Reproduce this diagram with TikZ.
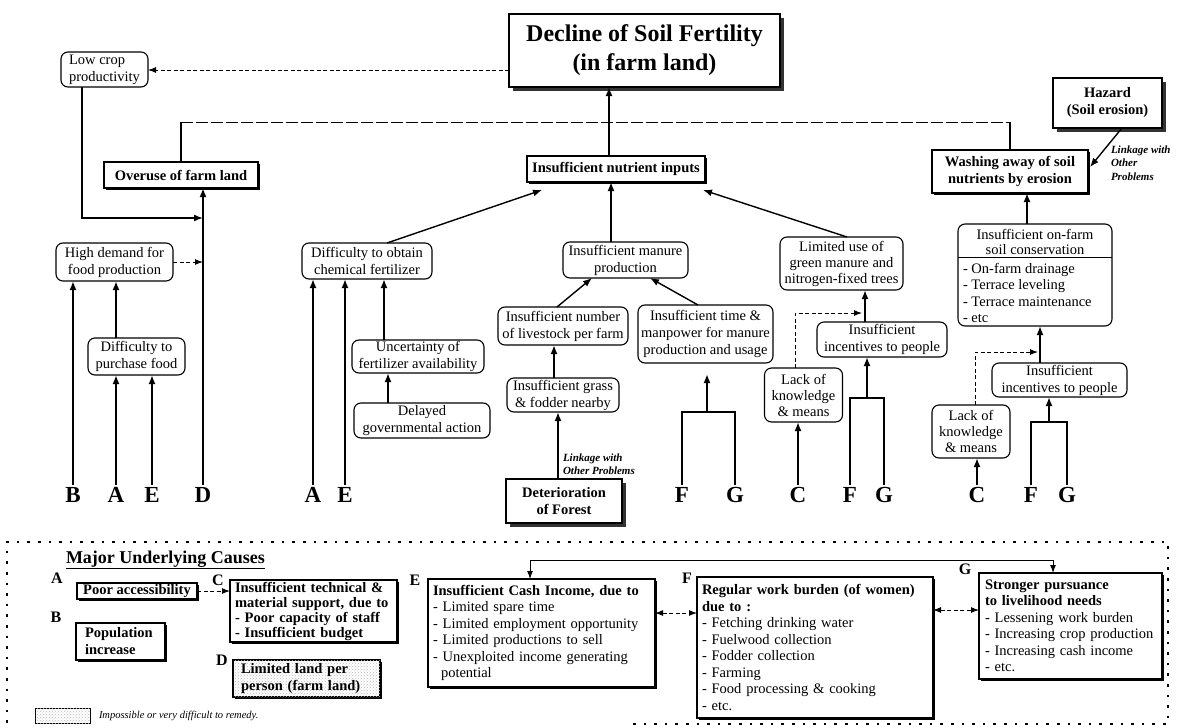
\documentclass[tikz,border=0pt]{standalone}
\usepackage{fontspec}
\setmainfont{Liberation Serif}
\usetikzlibrary{arrows.meta,shadows,patterns,calc}
\begin{document}
\begin{tikzpicture}[x=1pt,y=-1pt,
  every node/.style={inner sep=0pt, outer sep=0pt},
  txt/.style={font=\fontsize{14.5}{17}\selectfont, align=center},
  rbox/.style={draw, line width=1.1pt, rounded corners=7pt, fill=white, txt},
  sbox/.style={draw, line width=1.1pt, fill=white, align=center,
    font=\fontsize{14.5}{17}\selectfont\bfseries,
    drop shadow={shadow xshift=1.5pt, shadow yshift=-1.5pt, fill=black, opacity=1}},
  heavy/.style={draw, line width=1.3pt, fill=white, align=center,
    drop shadow={shadow xshift=4pt, shadow yshift=-4pt, fill=black!80, opacity=1}},
  lbox/.style={draw, line width=1.1pt, fill=white, align=left, inner xsep=5pt,
    font=\fontsize{14.5}{16.5}\selectfont,
    drop shadow={shadow xshift=1.5pt, shadow yshift=-1.5pt, fill=black, opacity=1}},
  shade/.style={fill=white, postaction={pattern=crosshatch dots, pattern color=gray!55}},
  letter/.style={font=\fontsize{23}{23}\selectfont\bfseries, inner sep=2pt},
  clabel/.style={font=\fontsize{16}{16}\selectfont\bfseries},
  linknote/.style={font=\fontsize{11}{13.5}\selectfont\bfseries\itshape, align=left},
  arr/.style={line width=2pt, -{Latex[length=9pt,width=7pt]}},
  arrm/.style={line width=1.4pt, -{Latex[length=9pt,width=7pt]}},
  dasharr/.style={line width=1pt, dash pattern=on 4pt off 2.5pt, -{Latex[length=8pt,width=6pt]}},
  dasharrboth/.style={line width=1pt, dash pattern=on 4pt off 2.5pt,
    {Latex[length=8pt,width=6pt]}-{Latex[length=8pt,width=6pt]}},
  busl/.style={line width=0.9pt, dash pattern=on 12pt off 3pt},
  stem/.style={line width=1.6pt},
  fork/.style={line width=2pt},
  frame/.style={line width=2.6pt, dash pattern=on 2.6pt off 8pt},
]
\fill[white] (0,0) rectangle (1186,728);
\useasboundingbox (0,0) rectangle (1186,728);

% ---------- problem tree ----------
\node[heavy, minimum width=271, minimum height=73,
  font=\fontsize{24}{29}\selectfont\bfseries] (ti) at (644.5,50.5)
  {Decline of Soil Fertility\\(in farm land)};
\node[rbox, minimum width=87, minimum height=35, align=left] (lc) at (104.5,69.5)
  {Low crop\\productivity};
\node[sbox, minimum width=154, minimum height=26] (ov) at (181,175) {Overuse of farm land};
\node[sbox, minimum width=178, minimum height=26] (ni) at (616,169) {Insufficient nutrient inputs};
\node[sbox, minimum width=156, minimum height=43] (wa) at (1010,171.5)
  {Washing away of soil\\nutrients by erosion};
\node[heavy, minimum width=109, minimum height=50,
  font=\fontsize{14.5}{17}\selectfont\bfseries] (hz) at (1107.5,103)
  {Hazard\\(Soil erosion)};

\node[rbox, minimum width=117, minimum height=38] (hd) at (114.5,262) {High demand for\\food production};
\node[rbox, minimum width=97, minimum height=37] (dp) at (136.5,356.5) {Difficulty to\\purchase food};
\node[rbox, minimum width=130, minimum height=36] (dc) at (367,261) {Difficulty to obtain\\chemical fertilizer};
\node[rbox, minimum width=132, minimum height=33] (un) at (418,356.5) {Uncertainty of\\fertilizer availability};
\node[rbox, minimum width=136, minimum height=35] (dg) at (422,420.5) {Delayed\\governmental action};
\node[rbox, minimum width=125, minimum height=36] (mp) at (625.5,260) {Insufficient manure\\production};
\node[rbox, minimum width=130, minimum height=38] (lv) at (563,326) {Insufficient number\\of livestock per farm};
\node[rbox, minimum width=135, minimum height=58] (tm) at (705.5,334)
  {Insufficient time \&\\manpower for manure\\production and usage};
\node[rbox, minimum width=112, minimum height=34] (gr) at (563,395) {Insufficient grass\\\& fodder nearby};
\node[heavy, minimum width=116, minimum height=44,
  font=\fontsize{14.5}{17}\selectfont\bfseries] (df) at (564,501) {Deterioration\\of Forest};
\node[linknote, anchor=west] (lkd) at (563,464) {Linkage with\\Other Problems};

\node[rbox, minimum width=123, minimum height=53, font=\fontsize{14.5}{16}\selectfont] (lu) at (841.5,263.5)
  {Limited use of\\green manure and\\nitrogen-fixed trees};
\node[rbox, minimum width=130, minimum height=35] (in1) at (882,339.5) {Insufficient\\incentives to people};
\node[rbox, minimum width=78, minimum height=54, font=\fontsize{14.5}{16}\selectfont] (lk1) at (803.5,395)
  {Lack of\\knowledge\\\& means};

\node[rbox, minimum width=154, minimum height=102] (sc) at (1035,275) {};
\node[txt, font=\fontsize{14.5}{15.5}\selectfont] (sch) at (1035,242) {Insufficient on-farm\\soil conservation};
\node[txt, align=left, anchor=west, font=\fontsize{14.5}{16.3}\selectfont] (scl) at (963,293)
  {- On-farm drainage\\- Terrace leveling\\- Terrace maintenance\\- etc};
\path (sc.north west) ++(0,33) coordinate (s1);
\draw[line width=1pt] (s1) -- (s1 -| sc.east);

\node[rbox, minimum width=135, minimum height=34] (in2) at (1059.5,380) {Insufficient\\incentives to people};
\node[rbox, minimum width=78, minimum height=53, font=\fontsize{14.5}{16}\selectfont] (lk2) at (971,431.5)
  {Lack of\\knowledge\\\& means};
\node[linknote, anchor=west] (lkh) at (1111,163) {Linkage with\\Other\\Problems};

% cause letters
\node[letter] (lB) at (73,495) {B};
\node[letter] (lA1) at (116,495) {A};
\node[letter] (lE1) at (152,495) {E};
\node[letter] (lD) at (203,495) {D};
\node[letter] (lA2) at (313,495) {A};
\node[letter] (lE2) at (345,495) {E};
\node[letter] (lF1) at (682,495) {F};
\node[letter] (lG1) at (735,495) {G};
\node[letter] (lC1) at (798,495) {C};
\node[letter] (lF2) at (850,495) {F};
\node[letter] (lG2) at (884,495) {G};
\node[letter] (lC2) at (977,495) {C};
\node[letter] (lF3) at (1031,495) {F};
\node[letter] (lG3) at (1067,495) {G};

% ---------- connectors ----------
\draw[arr] ([xshift=-7pt]ni.north) -- ([xshift=-35.5pt]ti.south);
\coordinate (bus) at (609,122);
\draw[stem] (ov.north) -- (ov.north |- bus);
\draw[busl] (ov.north |- bus) -- (wa.north |- bus);
\draw[stem] (wa.north |- bus) -- (wa.north);
\path ([yshift=17pt]ti.south west) coordinate (t1);
\draw[dasharr] (t1) -- (t1 -| lc.east);

\coordinate (j1) at (203,218);
\coordinate (j2) at (203,262);
\draw[stem, -{Latex[length=9pt,width=7pt]}] ([xshift=-22.5pt]lc.south) |- (j1);
\draw[dasharr] (hd.east) -- (j2);
\draw[arr] (lD.north) -- (lD.north |- ov.south);
\draw[arr] (lB.north) -- (lB.north |- hd.south);
\draw[arr] (lA1.north) -- (lA1.north |- dp.south);
\draw[arr] (lE1.north) -- (lE1.north |- dp.south);
\draw[arr] (lA1.north |- dp.north) -- (lA1.north |- hd.south);

\draw[arr] (lA2.north) -- (lA2.north |- dc.south);
\draw[arr] (lE2.north) -- (lE2.north |- dc.south);
\draw[arr] ([xshift=-34pt]un.north) -- ([xshift=17pt]dc.south);
\draw[arr] ([xshift=-34pt]dg.north) -- ([xshift=-30pt]un.south);
\draw[arrm] ([xshift=20pt]dc.north) -- ([xshift=15pt,yshift=-8pt]ni.south west);

\draw[arr] ([xshift=-14.5pt]mp.north) -- ([xshift=-5pt]ni.south);
\draw[arrm] ([xshift=-6pt]lv.north) -- ([xshift=-33.5pt]mp.south);
\draw[arrm] ([xshift=-7.5pt]tm.north) -- ([xshift=24.5pt]mp.south);
\draw[arr] ([xshift=-9pt]gr.north) -- ([xshift=-9pt]lv.south);
\draw[arr] ([xshift=-6pt]df.north) -- ([xshift=-5pt]gr.south);
\coordinate (fg1) at (707,412);
\draw[fork] (lF1.north) |- (fg1) -| (lG1.north);
\draw[arr, shorten >=11pt] (fg1) -- (fg1 |- tm.south);

\draw[arrm] ([xshift=5.5pt]lu.north) -- ([xshift=-2pt,yshift=-8pt]ni.south east);
\draw[arr] ([xshift=-17pt]in1.north) -- ([xshift=23.5pt]lu.south);
\coordinate (kj1) at (862,313);
\draw[dasharr] ([xshift=-8.5pt]lk1.north) |- (kj1);
\draw[arr] (lC1.north) -- (lC1.north |- lk1.south);
\coordinate (fg2) at (867,398);
\draw[fork] (lF2.north) |- (fg2) -| (lG2.north);
\draw[arr] (fg2) -- (fg2 |- in1.south);

\draw[arr] ([xshift=-8pt]sc.north) -- ([xshift=17pt]wa.south);
\draw[arrm] ([xshift=14.5pt]hz.south) -- ([xshift=2pt,yshift=4.5pt]wa.east);
\draw[arr] ([xshift=-19.5pt]in2.north) -- ([xshift=5pt]sc.south);
\coordinate (kj2) at (1038,352);
\draw[dasharr] ([xshift=4pt]lk2.north) |- (kj2);
\draw[arr] (lC2.north) -- (lC2.north |- lk2.south);
\coordinate (fg3) at (1049,422);
\draw[fork] (lF3.north) |- (fg3) -| (lG3.north);
\draw[arr] (fg3) -- (fg3 |- in2.south);

% ---------- major underlying causes ----------
\draw[frame] (633,724) -- (1168,724) -- (1168,542) -- (7,542) -- (7,728);
\node[anchor=west, font=\fontsize{18}{18}\selectfont\bfseries] (muc) at (66,560)
  {\underline{Major Underlying Causes}};

\node[clabel] (cA) at (57,578) {A};
\node[clabel] (cB) at (56,617) {B};
\node[clabel] (cC) at (218,580) {C};
\node[clabel] (cD) at (222,660) {D};
\node[clabel] (cE) at (415,580) {E};
\node[clabel] (cF) at (687,578) {F};
\node[clabel] (cG) at (965,569) {G};

\node[sbox, minimum width=120, minimum height=16] (pa) at (137,591) {Poor accessibility};
\node[lbox, font=\fontsize{14.5}{17}\selectfont\bfseries, text width=71, inner xsep=9pt,
  minimum height=37] (pop) at (120.5,641.5) {Population\\increase};
\node[lbox, font=\fontsize{14.5}{15}\selectfont\bfseries, text width=157,
  minimum height=62] (cb) at (313.5,611)
  {Insufficient technical \&\\material support, due to\\- Poor capacity of staff\\- Insufficient budget};
\node[lbox, shade, font=\fontsize{14.5}{17}\selectfont\bfseries, text width=131, inner xsep=8pt,
  minimum height=37] (dl) at (306.5,678.5) {Limited land per\\person (farm land)};
\node[draw, line width=0.9pt, shade, minimum width=55, minimum height=15] (leg) at (62.5,715.5) {};
\node[anchor=west, font=\fontsize{10.5}{12}\selectfont\itshape] (legt) at (99,716)
  {Impossible or very difficult to remedy.};

\node[lbox, text width=217, minimum height=108] (eb) at (541.5,633)
  {\textbf{Insufficient Cash Income, due to}\\- Limited spare time\\- Limited employment opportunity\\%
   - Limited productions to sell\\- Unexploited income generating\\\hspace*{8pt}potential};
\node[lbox, text width=226, minimum height=141] (fb) at (815,647.5)
  {\textbf{Regular work burden (of women)}\\\textbf{due to :}\\- Fetching drinking water\\%
   - Fuelwood collection\\- Fodder collection\\- Farming\\- Food processing \& cooking\\- etc.};
\node[lbox, text width=171, inner xsep=6pt, minimum height=106] (gb) at (1070.5,626)
  {\textbf{Stronger pursuance}\\\textbf{to livelihood needs}\\- Lessening work burden\\%
   - Increasing crop production\\- Increasing cash income\\- etc.};

\draw[dasharr] (pa.east) -- (pa.east -| cb.west);
\path ([xshift=-11.5pt]eb.north) coordinate (e0);
\path ([xshift=-17.5pt]gb.north) coordinate (g0);
\draw[line width=1pt, {Latex[length=8pt,width=6pt]}-{Latex[length=8pt,width=6pt]}]
  (e0) -- ++(0,-19) -| (g0);
\path ([yshift=20pt]eb.east) coordinate (e1);
\draw[dasharrboth] (e1) -- (e1 -| fb.west);
\path ([yshift=37.5pt]fb.east) coordinate (f1);
\draw[dasharrboth] (f1) -- (f1 -| gb.west);
\end{tikzpicture}
\end{document}
